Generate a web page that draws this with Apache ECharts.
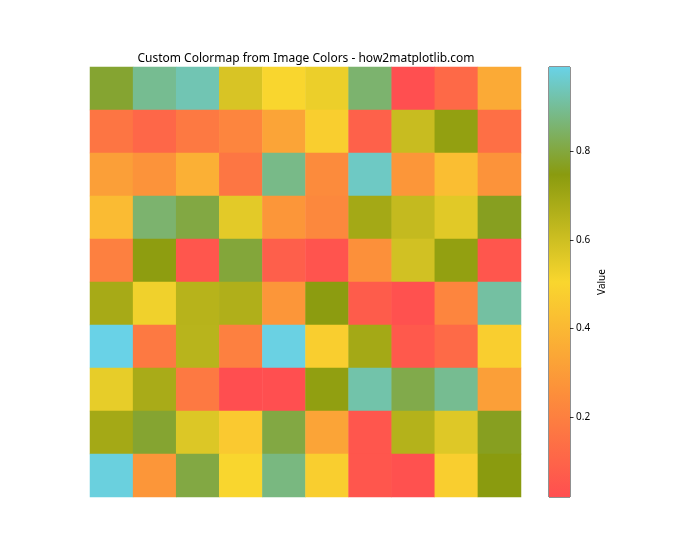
<!DOCTYPE html>
<html>
<head>
<meta charset="utf-8">
<script src="https://cdn.jsdelivr.net/npm/echarts@6/dist/echarts.min.js"></script>
<style>html,body{margin:0;padding:0;background:#fff;}#chart{width:700px;height:560px;}</style>
</head>
<body>
<div id="chart"></div>
<script>
const titleText = 'Custom Colormap from Image Colors - how2matplotlib.com';
const colorbarLabel = 'Value';
const cmapColors = ['#FF4E50', '#FC913A', '#F9D62E', '#8A9B0F', '#69D2E7'];
const colorbarTicks = [0.2, 0.4, 0.6, 0.8];
const rows = ['0','1','2','3','4','5','6','7','8','9'];
const cols = ['0','1','2','3','4','5','6','7','8','9'];
const row0 = [0.786, 0.893, 0.932, 0.578, 0.505, 0.534, 0.854, 0.025, 0.117, 0.35];
const row1 = [0.16, 0.11, 0.175, 0.22, 0.33, 0.476, 0.09, 0.612, 0.728, 0.14];
const row2 = [0.31, 0.27, 0.37, 0.165, 0.883, 0.24, 0.951, 0.28, 0.42, 0.27];
const row3 = [0.41, 0.854, 0.806, 0.553, 0.28, 0.23, 0.69, 0.621, 0.558, 0.767];
const row4 = [0.20, 0.738, 0.05, 0.796, 0.08, 0.04, 0.26, 0.592, 0.728, 0.05];
const row5 = [0.684, 0.524, 0.65, 0.665, 0.28, 0.743, 0.07, 0.03, 0.22, 0.912];
const row6 = [0.99, 0.175, 0.646, 0.20, 0.985, 0.476, 0.69, 0.06, 0.12, 0.476];
const row7 = [0.544, 0.68, 0.175, 0.02, 0.025, 0.733, 0.922, 0.815, 0.893, 0.31];
const row8 = [0.69, 0.786, 0.568, 0.46, 0.806, 0.33, 0.05, 0.655, 0.563, 0.767];
const row9 = [0.98, 0.28, 0.806, 0.505, 0.874, 0.476, 0.05, 0.03, 0.476, 0.748];
const matrix = [row0, row1, row2, row3, row4, row5, row6, row7, row8, row9];

const heatData = [];
matrix.forEach((r, i) => r.forEach((v, j) => heatData.push([j, i, v])));
const flat = matrix.flat();
const vmin = Math.min(...flat);
const vmax = Math.max(...flat);

const FONT = 'Noto Sans';
const chart = echarts.init(document.getElementById('chart'), null, {renderer: 'canvas'});
chart.setOption({
  animation: false,
  backgroundColor: '#fff',
  textStyle: {fontFamily: FONT},
  title: {
    text: titleText,
    left: 301, top: 48,
    textAlign: 'center',
    textStyle: {fontFamily: FONT, fontSize: 12, fontWeight: 'normal', color: '#000'}
  },
  grid: [
    {left: 90, top: 67, width: 431, height: 430, show: false},
    {left: 549, top: 67, width: 21, height: 430, show: true, borderColor: '#222', borderWidth: 1, backgroundColor: 'transparent'}
  ],
  xAxis: [
    {gridIndex: 0, type: 'category', data: cols, show: false},
    {gridIndex: 1, type: 'category', data: ['cb'], show: false}
  ],
  yAxis: [
    {gridIndex: 0, type: 'category', data: rows, inverse: true, show: false},
    {gridIndex: 1, type: 'value', min: vmin, max: vmax, position: 'right',
     axisLine: {show: false},
     splitLine: {show: false},
     axisTick: {show: true, customValues: colorbarTicks, length: 3.5, lineStyle: {color: '#000', width: 0.8}},
     axisLabel: {customValues: colorbarTicks, fontSize: 10, color: '#000', margin: 6, fontFamily: FONT,
       formatter: v => v.toFixed(1)},
     name: colorbarLabel, nameLocation: 'middle', nameRotate: 90, nameGap: 27,
     nameTextStyle: {fontSize: 10, color: '#000', fontFamily: FONT}
    }
  ],
  visualMap: {
    show: false, type: 'continuous', min: vmin, max: vmax, seriesIndex: 0, dimension: 2,
    inRange: {color: cmapColors}
  },
  series: [
    {type: 'heatmap', xAxisIndex: 0, yAxisIndex: 0, data: heatData, itemStyle: {borderWidth: 0}, emphasis: {disabled: true}},
    {type: 'custom', xAxisIndex: 1, yAxisIndex: 1, data: [[0, vmin, vmax]], silent: true, z: 1,
     renderItem: function (params, api) {
       const p1 = api.coord([api.value(0), api.value(2)]);
       const p0 = api.coord([api.value(0), api.value(1)]);
       const w = api.size([1, 0])[0];
       return {
         type: 'rect',
         shape: {x: p1[0] - w / 2, y: p1[1], width: w, height: p0[1] - p1[1]},
         style: {fill: new echarts.graphic.LinearGradient(0, 0, 0, 1, [
           {offset: 0, color: cmapColors[4]},
           {offset: 0.25, color: cmapColors[3]},
           {offset: 0.5, color: cmapColors[2]},
           {offset: 0.75, color: cmapColors[1]},
           {offset: 1, color: cmapColors[0]}
         ])}
       };
     }
    }
  ]
});
</script>
</body>
</html>
